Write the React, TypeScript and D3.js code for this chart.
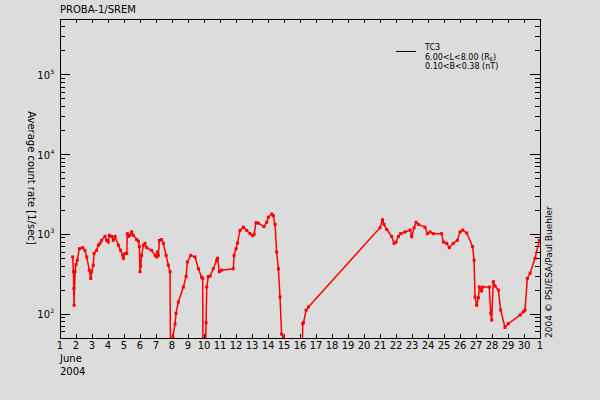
import React from "react";
import * as d3 from "d3";

const TITLE = "PROBA-1/SREM";
const Y_TITLE = "Average count rate [1/sec]";
const CREDIT = "2004 \u00A9 PSI/ESA/Paul Buehler";
const X_TICK_LABELS = ["1","2","3","4","5","6","7","8","9","10","11","12","13","14","15","16","17","18","19","20","21","22","23","24","25","26","27","28","29","30","1"];
const Y_DECADES = [2, 3, 4, 5];
const LEGEND_LINES = ["TC3", "6.00<L<8.00", "0.10<B<0.38"];

// day of June 2004 (fractional), count rate
const days = [
  1.79, 1.84, 1.86, 1.88, 1.94, 2.0, 2.08, 2.21, 2.42, 2.56, 2.67, 2.83, 2.92, 2.98, 3.08, 3.13, 3.29, 3.4, 3.5, 3.6,
  3.81, 3.92, 4.02, 4.08, 4.23, 4.33, 4.44, 4.65, 4.79, 4.92, 4.96, 5.06, 5.17, 5.21, 5.27, 5.38, 5.48, 5.58, 5.79, 5.9,
  5.96, 6.0, 6.04, 6.1, 6.21, 6.31, 6.42, 6.73, 6.94, 7.04, 7.08, 7.15, 7.21, 7.35, 7.46, 7.63, 7.77, 7.88, 7.92, 8.02,
  8.06, 8.19, 8.25, 8.4, 8.71, 8.88, 8.96, 9.17, 9.44, 9.65, 9.85, 9.92, 9.94, 10.0, 10.13, 10.17, 10.27, 10.38, 10.58, 10.79,
  10.85, 10.96, 11.1, 11.83, 11.88, 12.0, 12.1, 12.25, 12.46, 12.67, 12.88, 13.04, 13.13, 13.25, 13.4, 13.75, 13.92, 14.02, 14.23, 14.33,
  14.44, 14.54, 14.65, 14.75, 14.85, 14.96, 15.0, 16.1, 16.17, 16.22, 16.38, 16.53, 21.0, 21.16, 21.25, 21.42, 21.73, 21.88, 22.0, 22.15,
  22.29, 22.56, 22.88, 22.98, 23.13, 23.25, 23.4, 23.81, 23.96, 24.13, 24.33, 24.85, 24.96, 25.17, 25.33, 25.58, 25.83, 26.0, 26.17, 26.42,
  26.79, 26.88, 26.94, 27.04, 27.15, 27.21, 27.35, 27.42, 27.83, 27.92, 27.98, 28.08, 28.19, 28.4, 28.54, 28.81, 29.02, 29.75, 29.96, 30.06,
  30.21, 30.38, 30.69, 30.96
];
const counts = [
  520, 340, 210, 129, 340, 420, 473, 660, 680, 630, 520, 355, 280, 340, 410, 575, 630, 730, 770, 840,
  945, 840, 800, 975, 940, 840, 940, 730, 630, 545, 500, 575, 575, 1020, 940, 975, 1070, 975, 860, 820,
  700, 340, 400, 545, 730, 770, 680, 630, 545, 520, 600, 545, 840, 860, 770, 545, 410, 340, 5, 5,
  52, 75, 102, 142, 218, 295, 450, 545, 520, 370, 290, 280, 5, 5, 78, 218, 295, 300, 370, 473,
  500, 340, 355, 370, 545, 660, 780, 1120, 1230, 1120, 1020, 960, 1000, 1400, 1380, 1250, 1420, 1640, 1800, 1720,
  1330, 600, 370, 164, 56, 52, 5, 5, 76, 78, 112, 123, 1210, 1520, 1330, 1150, 940, 770, 800, 940,
  1020, 1070, 1130, 940, 1210, 1420, 1330, 1230, 1020, 1070, 1020, 1020, 800, 770, 680, 770, 840, 1070, 1130, 1040,
  700, 473, 164, 129, 160, 218, 195, 218, 218, 102, 84, 255, 225, 200, 112, 68, 76, 97, 107, 112,
  280, 325, 500, 840
];

const W = 600, H = 400;
const L = 60, R = 540, T = 19, B = 338;
const FONT = "'DejaVu Sans', sans-serif";

export default function App() {
  const x = d3.scaleLinear().domain([1, 31]).range([L, R]);
  const y = d3.scaleLog().domain([Math.pow(10, 1.7), Math.pow(10, 5.7)]).range([B, T]);
  const data = days.map((d, i) => ({ d, v: counts[i] }));
  const line = d3.line<{ d: number; v: number }>().x(p => x(p.d)).y(p => y(p.v));

  const minor: number[] = [];
  for (let e = 1; e <= 5; e++) {
    for (let m = 2; m <= 9; m++) {
      const v = m * Math.pow(10, e);
      if (v >= y.domain()[0] && v <= y.domain()[1]) minor.push(v);
    }
  }
  const xTicks = d3.range(1, 32);

  return (
    <svg width={W} height={H} style={{ position: "absolute", left: 0, top: 0, background: "#dcdcdc" }}
      fontFamily={FONT}>
      <rect x={0} y={0} width={W} height={H} fill="#dcdcdc" />
      <defs>
        <clipPath id="plot"><rect x={L} y={T} width={R - L} height={B - T} /></clipPath>
      </defs>
      <text x={L} y={13} fontSize={10} fill="#000">{TITLE}</text>

      <rect x={L} y={T} width={R - L} height={B - T} fill="none" stroke="#000" strokeWidth={1} shapeRendering="crispEdges" />

      {/* x ticks */}
      {xTicks.map((t, i) => (
        <g key={"xt" + i} shapeRendering="crispEdges">
          <line x1={x(t)} x2={x(t)} y1={B} y2={B - 4} stroke="#000" />
          <line x1={x(t)} x2={x(t)} y1={T} y2={T + 4} stroke="#000" />
          <text x={x(t)} y={349} fontSize={10} textAnchor="middle" fill="#000">{X_TICK_LABELS[i]}</text>
        </g>
      ))}
      <text x={L} y={362} fontSize={10} fill="#000">June</text>
      <text x={L} y={375} fontSize={10} fill="#000">2004</text>

      {/* y ticks */}
      {Y_DECADES.map(e => (
        <g key={"yd" + e} shapeRendering="crispEdges">
          <line x1={L} x2={L + 10} y1={y(Math.pow(10, e))} y2={y(Math.pow(10, e))} stroke="#000" />
          <line x1={R} x2={R - 10} y1={y(Math.pow(10, e))} y2={y(Math.pow(10, e))} stroke="#000" />
          <text x={50} y={y(Math.pow(10, e)) + 4} fontSize={10} textAnchor="end" fill="#000">10</text>
          <text x={50.5} y={y(Math.pow(10, e)) - 1} fontSize={6} fill="#000">{e}</text>
        </g>
      ))}
      {minor.map((v, i) => (
        <g key={"ym" + i} shapeRendering="crispEdges">
          <line x1={L} x2={L + 5} y1={y(v)} y2={y(v)} stroke="#000" />
          <line x1={R} x2={R - 5} y1={y(v)} y2={y(v)} stroke="#000" />
        </g>
      ))}

      <text transform="translate(28,178) rotate(90)" fontSize={10} textAnchor="middle" fill="#000">{Y_TITLE}</text>
      <text transform="translate(552,338) rotate(-90)" fontSize={9} fill="#000">{CREDIT}</text>

      {/* legend */}
      <line x1={396} x2={416} y1={51} y2={51} stroke="#000" strokeWidth={1} shapeRendering="crispEdges" />
      <text x={425} y={50} fontSize={8} fill="#000">{LEGEND_LINES[0]}</text>
      <text x={425} y={59.5} fontSize={8} fill="#000">{LEGEND_LINES[1]} (R<tspan fontSize={5} dy={1.5}>E</tspan><tspan dy={-1.5}>)</tspan></text>
      <text x={425} y={69} fontSize={8} fill="#000">{LEGEND_LINES[2]} (nT)</text>

      {/* data */}
      <g clipPath="url(#plot)">
        <path d={line(data) || ""} fill="none" stroke="#ff0000" strokeWidth={1.5} />
        {data.map((p, i) => (
          <rect key={"m" + i} x={x(p.d) - 1.5} y={y(p.v) - 1.5} width={3} height={3} fill="#ff0000" />
        ))}
      </g>
    </svg>
  );
}
